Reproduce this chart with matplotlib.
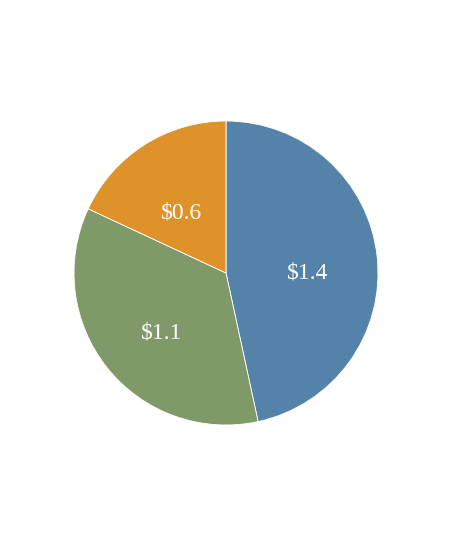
import matplotlib
matplotlib.use("Agg")
import matplotlib.pyplot as plt
import numpy as np

labels = ["$1.4", "$1.1", "$0.6"]
values = [1.445, 1.095, 0.56]
colors = ["#5482a8", "#7f9a68", "#e0922a"]

fig = plt.figure(figsize=(4.5, 5.48), dpi=100)
ax = fig.add_axes([226/450 - 152/450, (548-273)/548 - 152/548, 304/450, 304/548])
wedges, _ = ax.pie(values, colors=colors, startangle=90, counterclock=False,
                   radius=1.0, wedgeprops=dict(edgecolor="white", linewidth=0.6))
for w, lab in zip(wedges, labels):
    mid = np.deg2rad((w.theta1 + w.theta2) / 2)
    ax.annotate(lab, xy=(0.54 * np.cos(mid), 0.54 * np.sin(mid)),
                xytext=(0, -6.5), textcoords="offset points",
                ha="center", va="center", color="white", fontsize=17,
                family="Liberation Serif")
ax.set_xlim(-1, 1)
ax.set_ylim(-1, 1)
ax.set_aspect("auto")
fig.savefig("out.png", dpi=100)
